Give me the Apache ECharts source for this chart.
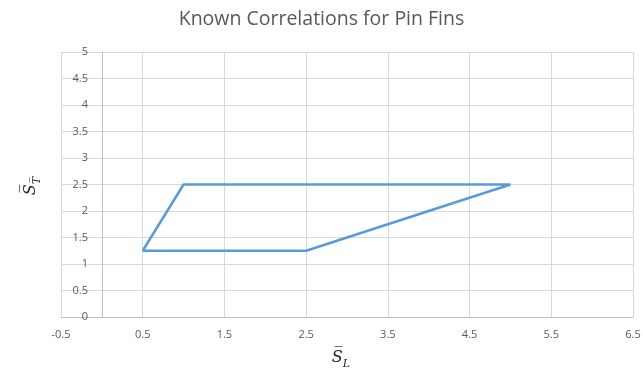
<!DOCTYPE html>
<html>
<head>
<meta charset="utf-8">
<script src="https://cdn.jsdelivr.net/npm/echarts@6/dist/echarts.min.js"></script>
<style>
html,body{margin:0;padding:0;background:#fff;}
#chart{width:643px;height:368px;}
</style>
</head>
<body>
<div id="chart"></div>
<script>
const chartTitle = 'Known Correlations for Pin Fins';
const xValues = [0.5, 1, 5, 2.5, 0.5];
const yValues = [1.25, 2.5, 2.5, 1.25, 1.25];
const xRange = [-0.5, 6.5];
const yRange = [0, 5];

const font = 'Open Sans, Liberation Sans, sans-serif';
const nameRich = {
  s: {fontFamily: 'DejaVu Serif', fontStyle: 'italic', fontSize: 16, fill: '#262626', color: '#262626', lineHeight: 18},
  t: {fontFamily: 'DejaVu Serif', fontStyle: 'italic', fontSize: 11, fill: '#262626', color: '#262626', verticalAlign: 'bottom', lineHeight: 24}
};
const chart = echarts.init(document.getElementById('chart'));
chart.setOption({
  animation: false,
  title: {
    text: chartTitle,
    left: 'center',
    top: 4,
    textStyle: {fontFamily: font, fontSize: 19.5, fontWeight: 'normal', color: '#595959'}
  },
  grid: {left: 61, right: 10, top: 52, bottom: 51, containLabel: false, outerBoundsMode: 'none'},
  xAxis: {
    type: 'value',
    min: xRange[0], max: xRange[1], interval: 1,
    axisLine: {onZero: false, lineStyle: {color: '#bfbfbf'}},
    axisTick: {show: false},
    splitLine: {show: true, lineStyle: {color: '#d9d9d9', width: 1}},
    axisLabel: {color: '#595959', fontFamily: font, fontSize: 11, margin: 12},
    name: '{s|S\u0305}{t|L}',
    nameLocation: 'middle',
    nameGap: 29,
    nameTextStyle: {padding: [0, 0, 0, -12], rich: nameRich}
  },
  yAxis: {
    type: 'value',
    min: yRange[0], max: yRange[1], interval: 0.5,
    axisLine: {show: true, onZero: true, lineStyle: {color: '#bfbfbf'}},
    axisTick: {show: false},
    splitLine: {show: true, lineStyle: {color: '#d9d9d9', width: 1}},
    axisLabel: {color: '#595959', fontFamily: font, fontSize: 11, margin: -27}
  },
  graphic: [{
    type: 'group',
    x: 31,
    y: 186,
    rotation: Math.PI / 2,
    children: [{
      type: 'text',
      x: 0,
      y: 0,
      style: {
        text: '{s|S\u0305}{t|T\u0305}',
        align: 'center',
        verticalAlign: 'middle',
        rich: nameRich
      }
    }]
  }],
  series: [{
    type: 'line',
    data: xValues.map((x, i) => [x, yValues[i]]),
    showSymbol: false,
    lineStyle: {color: '#5B9BD5', width: 2.5},
    silent: true
  }]
});
</script>
</body>
</html>
